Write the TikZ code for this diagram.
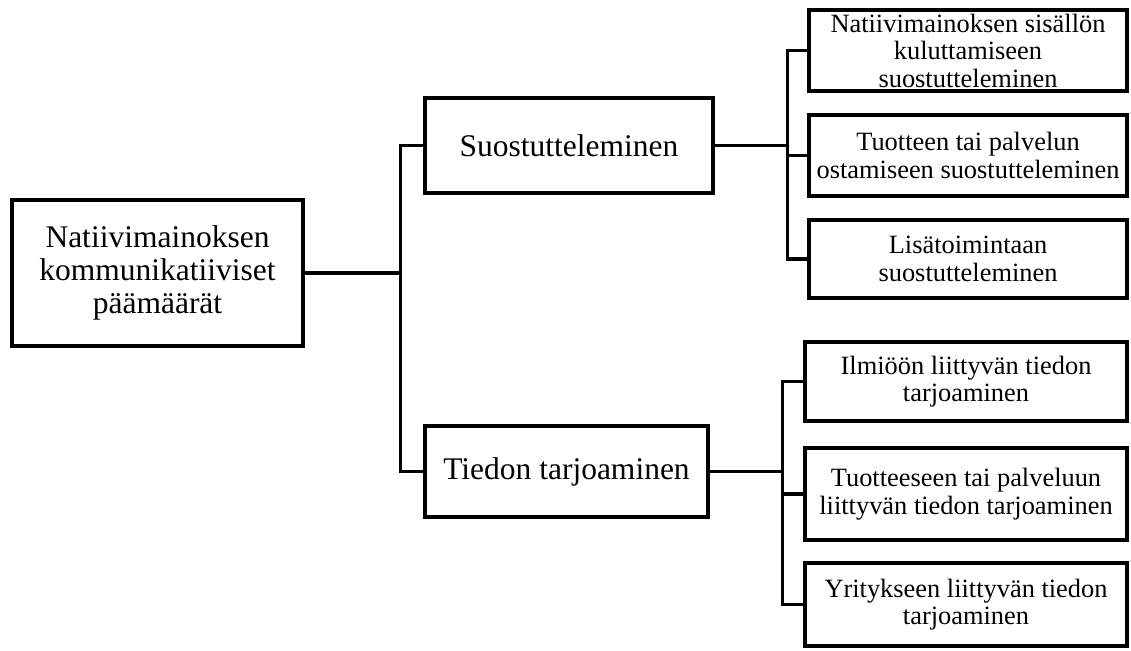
\documentclass[tikz,border=0pt]{standalone}
\usepackage{fontspec}
\setmainfont{Liberation Serif}

\begin{document}
\begin{tikzpicture}[x=1pt,y=-1pt,
    goalbox/.style={draw,line width=4.5pt,align=center,inner sep=0pt,
        font={\fontsize{31.5}{33}\selectfont}},
    leafbox/.style={draw,line width=4.5pt,align=center,inner sep=0pt,
        font={\fontsize{26.4}{27.5}\selectfont}},
    link/.style={line width=3.5pt}]

\useasboundingbox (0,0) rectangle (1131,650);

% Main goal
\node[goalbox,minimum width=291pt,minimum height=146pt] (goal) at (157.5,273)
    {Natiivimainoksen\\kommunikatiiviset\\päämäärät};

% Two sub-goals
\node[goalbox,minimum width=288pt,minimum height=95pt] (pers) at (569,145.5)
    {Suostutteleminen};
\node[goalbox,minimum width=283pt,minimum height=91pt] (info) at (566.5,471.5)
    {Tiedon tarjoaminen};

% Persuasion leaves
\node[leafbox,minimum width=318pt,minimum height=81pt] (p1) at (968,50.5)
    {Natiivimainoksen sisällön\\kuluttamiseen\\suostutteleminen};
\node[leafbox,minimum width=318pt,minimum height=81pt] (p2) at (968,155.5)
    {Tuotteen tai palvelun\\ostamiseen suostutteleminen};
\node[leafbox,minimum width=318pt,minimum height=78pt] (p3) at (968,259)
    {Lisätoimintaan\\suostutteleminen};

% Information leaves
\node[leafbox,minimum width=322pt,minimum height=79pt] (i1) at (966,381.5)
    {Ilmiöön liittyvän tiedon\\tarjoaminen};
\node[leafbox,minimum width=322pt,minimum height=92pt] (i2) at (966,494)
    {Tuotteeseen tai palveluun\\liittyvän tiedon tarjoaminen};
\node[leafbox,minimum width=322pt,minimum height=83pt] (i3) at (966,604.5)
    {Yritykseen liittyvän tiedon\\tarjoaminen};

% Connectors
\path (goal.east) ++(95,0) coordinate (jgoal);
\draw[link] (goal.east) -- (jgoal) |- (pers.west);
\draw[link] (jgoal) |- (info.west);

\path (pers.east) ++(72,0) coordinate (jpers);
\draw[link] (pers.east) -- (jpers);
\foreach \n in {p1,p2,p3}
    \draw[link] (jpers) |- (\n.west);

\path (info.east) ++(72,0) coordinate (jinfo);
\draw[link] (info.east) -- (jinfo);
\foreach \n in {i1,i2,i3}
    \draw[link] (jinfo) |- (\n.west);

\end{tikzpicture}
\end{document}
